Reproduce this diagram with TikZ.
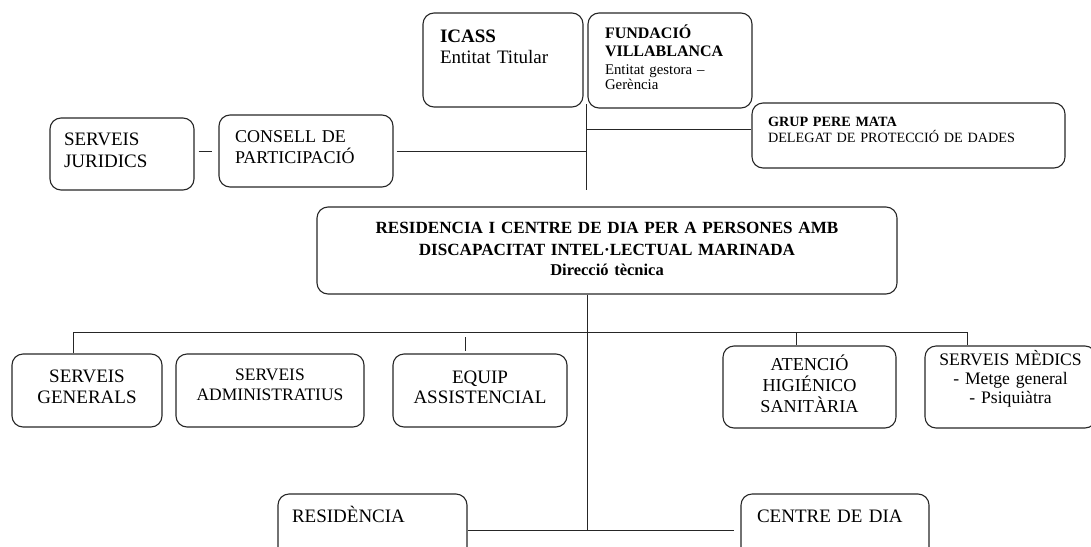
\documentclass[tikz,border=0pt]{standalone}
\usepackage{fontspec}
\setmainfont{Liberation Serif}

\begin{document}
\begin{tikzpicture}[x=1pt, y=-1pt,
    caixa/.style={draw=black!85, line width=1.1pt, rounded corners=11pt, inner ysep=0pt},
    linia/.style={draw=black!85, line width=1pt}]
    \useasboundingbox (0,0) rectangle (1091,546);

    % entitats
    \node[caixa, align=left, text width=126pt, text height=29pt, text depth=65pt, inner xsep=17pt,
          font=\fontsize{19}{21}\selectfont] (icass) at (503,60) {\textbf{ICASS}\\Entitat Titular};
    \node[caixa, align=left, text width=130pt, text height=25pt, text depth=70pt, inner xsep=17pt,
          font=\fontsize{14.8}{18}\selectfont] (fund) at (670,60.5)
          {\textbf{\fontsize{16}{18}\selectfont FUNDACIÓ\\VILLABLANCA}\\Entitat gestora –\\[-3pt]Gerència};
    \node[caixa, align=left, text width=281pt, text height=23pt, text depth=42pt, inner xsep=16pt,
          font=\fontsize{14.2}{16}\selectfont] (grup) at (908.5,135.5)
          {\textbf{GRUP PERE MATA}\\DELEGAT DE PROTECCIÓ DE DADES};
    \node[caixa, align=left, text width=116pt, text height=27pt, text depth=45pt, inner xsep=14pt,
          font=\fontsize{19}{22}\selectfont] (jur) at (122,154) {SERVEIS\\JURIDICS};
    \node[caixa, align=left, text width=142pt, text height=27pt, text depth=45pt, inner xsep=16pt,
          font=\fontsize{18}{21}\selectfont] (cons) at (306,151) {CONSELL DE\\PARTICIPACIÓ};

    % direccio
    \node[caixa, align=center, text width=580pt, text height=26pt, text depth=61pt, inner xsep=0pt,
          font=\fontsize{17.1}{22}\selectfont\bfseries] (main) at (607,250.5)
          {RESIDENCIA I CENTRE DE DIA PER A PERSONES AMB\\DISCAPACITAT INTEL·LECTUAL MARINADA\\[-2pt]{\fontsize{16.5}{20}\selectfont Direcció tècnica}};

    % serveis
    \node[caixa, align=center, text width=150pt, text height=28pt, text depth=45pt, inner xsep=0pt,
          font=\fontsize{19}{21}\selectfont] (gen) at (87,390.5) {SERVEIS\\GENERALS};
    \node[caixa, align=center, text width=188pt, text height=26pt, text depth=47pt, inner xsep=0pt,
          font=\fontsize{17.5}{20}\selectfont] (adm) at (270,390.5) {SERVEIS\\ADMINISTRATIUS};
    \node[caixa, align=center, text width=174pt, text height=29pt, text depth=44pt, inner xsep=0pt,
          font=\fontsize{19}{20.5}\selectfont] (equip) at (480,390.5) {EQUIP\\ASSISTENCIAL};
    \node[caixa, align=center, text width=173pt, text height=24pt, text depth=58pt, inner xsep=0pt,
          font=\fontsize{18.2}{21}\selectfont] (aten) at (809.5,387) {ATENCIÓ\\HIGIÉNICO\\SANITÀRIA};
    \node[caixa, align=center, text width=171pt, text height=19pt, text depth=63pt, inner xsep=0pt,
          font=\fontsize{17.6}{19}\selectfont] (med) at (1010.5,387) {SERVEIS MÈDICS\\- Metge general\\- Psiquiàtra};

    % residencia i centre de dia
    \node[caixa, align=left, text width=161pt, text height=28pt, text depth=72pt, inner xsep=14pt,
          font=\fontsize{19}{21}\selectfont] (res) at (372.5,544) {RESIDÈNCIA};
    \node[caixa, align=left, text width=156pt, text height=28pt, text depth=72pt, inner xsep=16pt,
          font=\fontsize{19}{21}\selectfont] (cent) at (835,544) {CENTRE DE DIA};

    % linies superiors
    \coordinate (t1) at (586,104);
    \coordinate (t2) at (586,190);
    \coordinate (tg) at (586,129);
    \draw[linia] (t1) -- (t2);
    \draw[linia] (tg) -- (tg -| grup.west);
    \draw[linia] ([xshift=3pt]cons.east) -- (cons.east -| t1);
    \draw[linia] ([xshift=4pt]jur.east |- cons.east) -- ([xshift=-6pt]cons.west);

    % linies inferiors
    \coordinate (b) at (587,530);
    \coordinate (hg) at (73,332);
    \coordinate (ha) at (796,332);
    \coordinate (hm) at (967,332);
    \coordinate (tk) at (465,337);
    \draw[linia] (main.south -| b) -- (b);
    \draw[linia] (gen.north -| hg) -- (hg) -- (hm) -- (med.north -| hm);
    \draw[linia] (ha) -- (aten.north -| ha);
    \draw[linia] (tk) -- ++(0,14);
    \draw[linia] (res.east |- b) -- ([xshift=-6pt]cent.west |- b);
\end{tikzpicture}
\end{document}
